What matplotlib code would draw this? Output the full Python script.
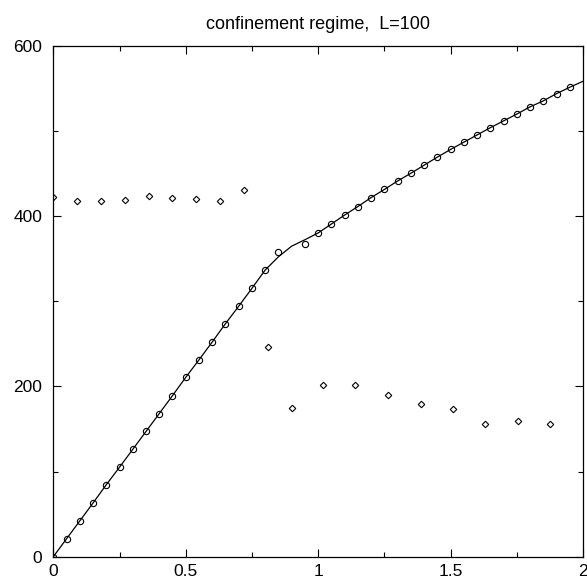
import matplotlib
matplotlib.use("Agg")
import matplotlib.pyplot as plt
from matplotlib.ticker import MultipleLocator, FuncFormatter

plt.rcParams['font.family'] = ['Liberation Sans', 'DejaVu Sans']

title = "confinement regime,  L=100"

# circles (data points)
circ_x = [0, 0.05, 0.1, 0.15, 0.2, 0.25, 0.3, 0.35, 0.4, 0.45, 0.5, 0.55, 0.6,
          0.65, 0.7, 0.75, 0.8, 0.85, 0.95, 1.0, 1.05, 1.1, 1.15, 1.2, 1.25, 1.3,
          1.35, 1.4, 1.45, 1.5, 1.55, 1.6, 1.65, 1.7, 1.75, 1.8, 1.85, 1.9, 1.95]
circ_y = [0, 21, 42, 63, 84.5, 105, 126, 147, 168, 189, 210.5, 231, 252,
          273.5, 294, 315, 336.5, 357.5, 366.5, 380, 390.5, 401, 411, 421.5, 431, 441,
          450, 459.5, 469, 478, 486.5, 495, 503.5, 511.5, 519.5, 528, 535, 543.5, 551]

# solid curve
line_x = [0, 0.05, 0.1, 0.15, 0.2, 0.25, 0.3, 0.35, 0.4, 0.45, 0.5, 0.55, 0.6,
          0.65, 0.7, 0.75, 0.8, 0.85, 0.9, 0.95, 1.0, 1.05, 1.1, 1.15, 1.2, 1.25, 1.3,
          1.35, 1.4, 1.45, 1.5, 1.55, 1.6, 1.65, 1.7, 1.75, 1.8, 1.85, 1.9, 1.95, 2.0]
line_y = [0, 21, 42, 63, 84.5, 105, 126, 147, 168, 189, 210.5, 231, 252,
          273.5, 294, 315, 336.5, 352, 364.5, 372, 380, 390.5, 401, 411, 421.5, 431, 441,
          450, 459.5, 469, 478, 486.5, 495, 503.5, 511.5, 519.5, 528, 535, 543.5, 551, 558]

# diamonds, upper branch
diam_up_x = [0, 0.09, 0.18, 0.27, 0.36, 0.45, 0.54, 0.63, 0.72]
diam_up_y = [422, 418, 418, 418.5, 423, 420.5, 420, 417, 430.5]

# diamonds, lower branch
diam_lo_x = [0.81, 0.90, 1.02, 1.14, 1.265, 1.39, 1.51, 1.63, 1.755, 1.875]
diam_lo_y = [246.5, 175, 202, 202, 190, 179, 173.5, 155.5, 159, 155.5]

fig = plt.figure(figsize=(5.87, 5.80), dpi=100)
ax = fig.add_axes([53.3 / 587, (580 - 556.7) / 580, (583 - 53.3) / 587, (556.7 - 45.5) / 580])

ax.plot(line_x, line_y, color='black', lw=0.9)
ax.plot(circ_x, circ_y, linestyle='none', marker='o', ms=4.5, mfc='none',
        mec='black', mew=0.8)
ax.plot(diam_up_x, diam_up_y, linestyle='none', marker='D', ms=3.3, mfc='none',
        mec='black', mew=0.8)
ax.plot(diam_lo_x, diam_lo_y, linestyle='none', marker='D', ms=3.3, mfc='none',
        mec='black', mew=0.8)

ax.set_xlim(0, 2)
ax.set_ylim(0, 600)
ax.xaxis.set_major_locator(MultipleLocator(0.5))
ax.xaxis.set_minor_locator(MultipleLocator(0.25))
ax.yaxis.set_major_locator(MultipleLocator(200))
ax.yaxis.set_minor_locator(MultipleLocator(100))
ax.xaxis.set_major_formatter(FuncFormatter(lambda v, p: f"{v:g}"))
ax.tick_params(which='both', direction='in', top=True, right=True, labelsize=12.5)
ax.tick_params(which='major', length=6, width=0.8)
ax.tick_params(which='minor', length=3.5, width=0.8)
ax.tick_params(axis='x', which='major', pad=5.5)
ax.tick_params(axis='y', which='major', pad=8)
for s in ax.spines.values():
    s.set_linewidth(0.9)

ax.set_title(title, fontsize=13, pad=12)

fig.savefig("out.png", dpi=100)
